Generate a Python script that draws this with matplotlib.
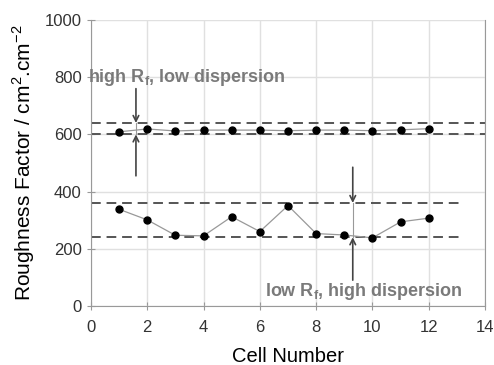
import numpy as np
import matplotlib
matplotlib.use("Agg")
import matplotlib.pyplot as plt

plt.rcParams['font.family'] = ['Liberation Sans', 'DejaVu Sans']

cells = [1, 2, 3, 4, 5, 6, 7, 8, 9, 10, 11, 12]
rf_high = [609, 619, 612, 615, 615, 615, 613, 615, 615, 613, 616, 620]
rf_low = [338, 301, 247, 245, 312, 260, 351, 253, 248, 238, 294, 307]

# band limits (value, x end)
high_band = [640, 600]
low_band = [360, 240]
high_band_end = 14
low_band_end = 13.2

fig = plt.figure(figsize=(4.94, 3.65), dpi=100)
ax = fig.add_axes([0.184, 0.162, 0.798, 0.783])

ax.grid(True, color='#e0e0e0', linewidth=1)
ax.set_axisbelow(True)

for yv in high_band:
    ax.plot([0, high_band_end], [yv, yv], '--', color='#555555', linewidth=1.4, dashes=(5, 3), zorder=2)
for yv in low_band:
    ax.plot([0, low_band_end], [yv, yv], '--', color='#555555', linewidth=1.4, dashes=(5, 3), zorder=2)

ax.plot(cells, rf_high, '-', color='#999999', linewidth=0.9, zorder=3)
ax.plot(cells, rf_high, 'o', color='black', markersize=5, zorder=4)
ax.plot(cells, rf_low, '-', color='#999999', linewidth=0.9, zorder=3)
ax.plot(cells, rf_low, 'o', color='black', markersize=5, zorder=4)

arrow = dict(arrowstyle='->', color='#444444', lw=1.2, shrinkA=0, shrinkB=0)
# high band arrows
ax.annotate('', xy=(1.6, high_band[0]), xytext=(1.6, 760), arrowprops=arrow)
ax.annotate('', xy=(1.6, high_band[1]), xytext=(1.6, 455), arrowprops=arrow)
ax.plot([1.6, 1.6], high_band, color='#999999', linewidth=0.8)
# low band arrows
ax.annotate('', xy=(9.3, low_band[0]), xytext=(9.3, 485), arrowprops=arrow)
ax.annotate('', xy=(9.3, low_band[1]), xytext=(9.3, 90), arrowprops=arrow)
ax.plot([9.3, 9.3], low_band, color='#999999', linewidth=0.8)

ax.text(-0.1, 800, 'high R$_\\mathregular{f}$, low dispersion', fontsize=13, fontweight='bold',
        color='#7a7a7a', va='center', ha='left')
ax.text(13.2, 52, 'low R$_\\mathregular{f}$, high dispersion', fontsize=13, fontweight='bold',
        color='#7a7a7a', va='center', ha='right')

ax.set_xlim(0, 14)
ax.set_ylim(0, 1000)
ax.set_xticks(range(0, 15, 2))
ax.set_yticks(range(0, 1001, 200))
ax.tick_params(direction='inout', length=6, colors='#999999', labelcolor='#333333', labelsize=12)
ax.tick_params(axis='x', pad=7)

for s in ['left', 'bottom', 'right']:
    ax.spines[s].set_color('#999999')
ax.spines['top'].set_visible(False)

ax.set_xlabel('Cell Number', fontsize=14.5, labelpad=9)
ax.set_ylabel('Roughness Factor / cm$^\\mathregular{2}$.cm$^\\mathregular{-2}$', fontsize=15, labelpad=6)

fig.savefig('out.png', dpi=100)
